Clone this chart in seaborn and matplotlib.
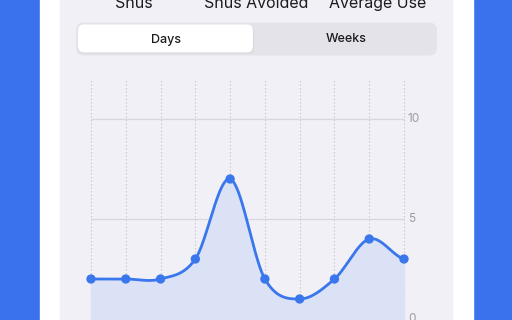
import numpy as np
import pandas as pd
import matplotlib
matplotlib.use("Agg")
import matplotlib.pyplot as plt
from matplotlib.patches import FancyBboxPatch, Rectangle
import seaborn as sns

# ---- data ----
days = list(range(10))
snus_values = [2, 2, 2, 3, 7, 2, 1, 2, 4, 3]
y_ticks = [0, 5, 10]
y_tick_labels = ["0", "5", "10"]
stat_labels = ["Snus", "Snus Avoided", "Average Use"]
segment_labels = ["Days", "Weeks"]

sns.set_theme(style="white")
plt.rcParams['font.family'] = ['Inter', 'DejaVu Sans']

W, H = 512, 320
fig = plt.figure(figsize=(W / 100, H / 100), dpi=100)

# background overlay in pixel coordinates
bg = fig.add_axes([0, 0, 1, 1])
bg.set_xlim(0, W)
bg.set_ylim(H, 0)
bg.axis("off")
bg.add_patch(Rectangle((0, 0), W, H, color="#3a72ee", zorder=0))
bg.add_patch(Rectangle((40, 0), 433, H, color="#ffffff", zorder=1))
bg.add_patch(Rectangle((60, 0), 392, H, color="#f0f0f6", zorder=2))
# segmented control
bg.add_patch(FancyBboxPatch((76, 22.5), 361, 33, boxstyle="round,pad=0,rounding_size=8",
                            facecolor="#e3e3e9", edgecolor="none", zorder=3))
bg.add_patch(FancyBboxPatch((78, 25.5), 176, 28, boxstyle="round,pad=0,rounding_size=6",
                            facecolor="#d5d5da", edgecolor="none", zorder=3.5))
bg.add_patch(FancyBboxPatch((78, 24.5), 175, 28, boxstyle="round,pad=0,rounding_size=6",
                            facecolor="#ffffff", edgecolor="none", zorder=4))
bg.text(165.5, 39.5, segment_labels[0], ha="center", va="center", fontsize=9,
        fontweight="medium", color="#1c1c1e", zorder=5)
bg.text(346.5, 39.5, segment_labels[1], ha="center", va="center", fontsize=9,
        fontweight="medium", color="#1c1c1e", zorder=5)
for cx, lab in zip([134, 256, 378], stat_labels):
    bg.text(cx, 8, lab, ha="center", va="baseline", fontsize=11.5, color="#1c1c1e", zorder=5)

# chart axes
px_per_x = (404 - 91) / 9.0
px_per_y = 20.0
left_px, right_px, top_px, bot_px = 60, 452, 80, 320
ax = fig.add_axes([left_px / W, 1 - bot_px / H, (right_px - left_px) / W, (bot_px - top_px) / H])
ax.set_facecolor("none")
ax.set_xlim(-(91 - left_px) / px_per_x, 9 + (right_px - 404) / px_per_x)
ax.set_ylim(-(bot_px - 319) / px_per_y, 10 + (119 - top_px) / px_per_y)
for s in ax.spines.values():
    s.set_visible(False)
ax.set_xticks([])
ax.set_yticks([])

# grid
for d in days:
    ax.axvline(d, color="#c6c6cc", lw=0.8, ls=(0, (1.2, 2.0)), zorder=1)
for t in y_ticks:
    ax.hlines(t, 0, 9, color="#d6d6db", lw=0.9, zorder=1)
for t, lab in zip(y_ticks, y_tick_labels):
    ax.text(9 + 4 / px_per_x, t, lab, ha="left", va="center", fontsize=8.5, color="#9a9aa0", zorder=2)

# smooth curve (Catmull-Rom rendering of the line through the data points)
x = np.array(days, dtype=float)
y = np.array(snus_values, dtype=float)
xs_all, ys_all = [], []
P = np.concatenate([[y[0]], y, [y[-1]]])
for i in range(len(x) - 1):
    p0, p1, p2, p3 = P[i], P[i + 1], P[i + 2], P[i + 3]
    t = np.linspace(0, 1, 40)
    yy = 0.5 * ((2 * p1) + (-p0 + p2) * t + (2 * p0 - 5 * p1 + 4 * p2 - p3) * t ** 2
                + (-p0 + 3 * p1 - 3 * p2 + p3) * t ** 3)
    xx = x[i] + t
    xs_all.append(xx)
    ys_all.append(yy)
xs = np.concatenate(xs_all)
ys = np.concatenate(ys_all)

ax.fill_between(xs, ys, 0, color="#dbe2f7", alpha=0.95, zorder=2)
ax.plot(xs, ys, color="#3a76ec", lw=2.0, zorder=3, solid_capstyle="round")

df = pd.DataFrame({"day": days, "snus": snus_values})
sns.scatterplot(data=df, x="day", y="snus", ax=ax, s=45, color="#3a76ec",
                edgecolor="none", zorder=4, legend=False)
ax.set_xlabel("")
ax.set_ylabel("")

fig.savefig("out.png", dpi=100)
